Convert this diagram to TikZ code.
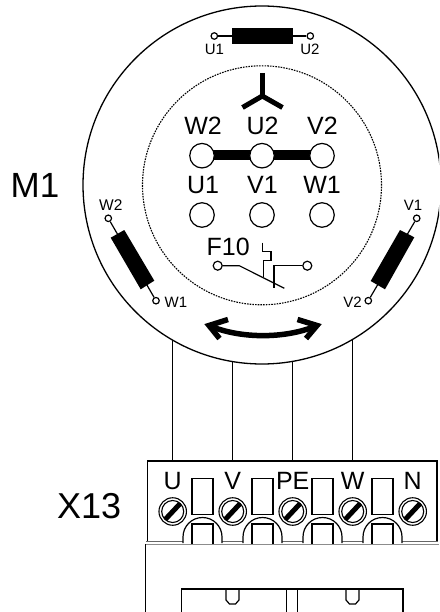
\documentclass[tikz,border=0pt]{standalone}
\usepackage{fontspec}
\setmainfont{Liberation Sans}
\usetikzlibrary{calc}
\tikzset{
  lbl/.style={inner sep=0pt,font=\fontsize{#1}{#1}\selectfont},
  lbl/.default=25,
  term/.style={circle,draw,line width=1.2pt,fill=white,minimum size=#1,inner sep=0pt},
  thin line/.style={line width=1.2pt},
  coil/.style={fill=black},
  pad/.style={draw,line width=1.2pt,fill=white},
}
\begin{document}
\begin{tikzpicture}[x=1pt,y=-1pt,line join=miter]
\useasboundingbox (0,0) rectangle (439,612);
\fill[white] (0,0) rectangle (439,612);
% wires
\foreach \n/\x in {wu/172.5,wv/232.5,wp/292.5,ww/352.5}
  \draw[thin line] (\x,330) coordinate (\n a) -- (\x,462) coordinate (\n b);
% motor
\begin{scope}
\clip (0,0) rectangle (439,612);
\node[circle,draw,line width=1.3pt,fill=white,minimum size=358,inner sep=0pt] (motor) at (262,185) {};
\end{scope}
\node[circle,draw,dash pattern=on 1.6pt off 1.1pt,line width=1.1pt,minimum size=239,inner sep=0pt] (inner) at (262,185.3) {};
\node[lbl=35,anchor=base west] (m1) at (10.5,197.5) {M1};
% U coil
\node[term=6.5] (u1) at (214.3,36) {};
\node[term=6.5] (u2) at (310.3,36) {};
\draw[thin line] (u1) -- (u2);
\fill[coil] (231.7,28.3) rectangle (292.7,44);
\node[lbl=15,anchor=base] (u1t) at (214.5,54.5) {U1};
\node[lbl=15,anchor=base] (u2t) at (310,54.5) {U2};
% W coil
\node[term=6.5] (w2) at (108.3,218.3) {};
\node[term=6.5] (w1) at (156,300.7) {};
\draw[thin line] (w2) -- (w1);
\fill[coil] (110.7,237.7) -- (124.3,230) -- (154.3,280.7) -- (140.7,289.3) -- cycle;
\node[lbl=15.5,anchor=base] (w2t) at (110.8,210.5) {W2};
\node[lbl=15,anchor=base west] (w1t) at (164.5,307) {W1};
% V coil
\node[term=6.5] (v1) at (416.7,218.3) {};
\node[term=6.5] (v2) at (368.3,300.7) {};
\draw[thin line] (v1) -- (v2);
\fill[coil] (400,230) -- (414.3,237.3) -- (385,289.3) -- (370.7,281) -- cycle;
\node[lbl=15,anchor=base] (v1t) at (413,210.5) {V1};
\node[lbl=15,anchor=base east] (v2t) at (362,307) {V2};
% star
\coordinate (st) at (262.3,96);
\draw[line width=5pt] (262.3,73) -- (st);
\draw[line width=5pt] (242.5,107.5) -- (st) -- (282.5,107.5);
% inner terminals
\foreach \n/\x/\t in {a/203/W2,b/262.5/U2,c/322.5/V2}
  \node[lbl,anchor=base] (\n t) at (\x,134.5) {\t};
\draw[line width=10pt] (202,155.5) -- (322,155.5);
\foreach \n/\x in {a/202,b/262,c/322}
  \node[term=24.5] (\n) at (\x,155.7) {};
\foreach \n/\x/\t in {d/203/U1,e/262.5/V1,f/322/W1}
  \node[lbl,anchor=base] (\n t) at (\x,194) {\t};
\foreach \n/\x in {d/202,e/262,f/322}
  \node[term=24.5] (\n) at (\x,215) {};
% F10
\node[lbl,anchor=base west] (f10) at (206.5,255.7) {F10};
\node[term=9] (fa) at (217.7,265.7) {};
\node[term=9] (fb) at (307.3,265.7) {};
\draw[thin line] (fa) -- (239.3,265.7) -- (284.3,288.3);
\draw[thin line] (fb) -- (274,265.7) -- (274,287.7);
\draw[thin line] (262.3,242.7) -- (262.3,251.7) -- (271,251.7) -- (271,260.7) -- (263.3,260.7) -- (263.3,276.7);
% double arrow
\coordinate (al) at (209,325.5);
\coordinate (ar) at (317,325.5);
\draw[line width=5.5pt] (al) .. controls (240,339) and (286,339) .. (ar);
\draw[line width=5.5pt] (228,319.5) -- (al) -- (219.5,338.5);
\draw[line width=5.5pt] (297.5,319.5) -- (ar) -- (306,338.5);
% terminal block
\node[lbl=36,anchor=base west] (x13) at (57,518) {X13};
\draw[line width=1.2pt] (145.5,612) -- (145.5,544);
\draw[line width=1.2pt,fill=white] (147.5,541) -- (147.5,461) -- (437,461) -- (437,541);
\draw[line width=1pt,black!60] (146,541) -- (438,541);
\draw[line width=.8pt,black!45] (146,544) -- (439,544);
\foreach \x in {202.5,262.5,322.5,382.5}{
  \draw[line width=1.2pt,fill=white] (\x-19.5,543) -- (\x-19.5,537) .. controls (\x-19.5,526.2) and (\x-10.8,517.5) .. (\x,517.5) .. controls (\x+10.8,517.5) and (\x+19.5,526.2) .. (\x+19.5,537) -- (\x+19.5,543);
  \draw[pad] (\x-10.5,478.3) rectangle (\x+10.5,514.3);
  \draw[line width=1.2pt] (\x-10.5,544) -- (\x-10.5,524) -- (\x+10.5,524) -- (\x+10.5,544);
}
\foreach \n/\x/\t in {u/172.7/U,v/232.7/V,p/292.7/PE,w/352.7/W,n/412.7/N}{
  \node[lbl,anchor=base] (t\n) at (\x,489.3) {\t};
  \node[circle,draw,line width=1.1pt,minimum size=27.5,inner sep=0pt] (s\n) at (\x,511.5) {};
  \node[circle,draw,line width=1.1pt,minimum size=22,inner sep=0pt] (si\n) at (\x,511.5) {};
  \draw[line width=5pt] ($(\x,511.5)+(-7.5,8)$) -- ($(\x,511.5)+(7.5,-8)$);
}
% lower part
\draw[line width=1.2pt] (181.5,612) -- (181.5,589) -- (403,589) -- (403,612);
\draw[line width=1.2pt] (286.5,589) -- (286.5,612) (297.5,589) -- (297.5,612);
\foreach \x in {232.5,352.5}
  \draw[line width=1.2pt] (\x-6.5,589) -- (\x-6.5,600) -- (\x-3,604) -- (\x+3,604) -- (\x+6.5,600) -- (\x+6.5,589);
\end{tikzpicture}
\end{document}
